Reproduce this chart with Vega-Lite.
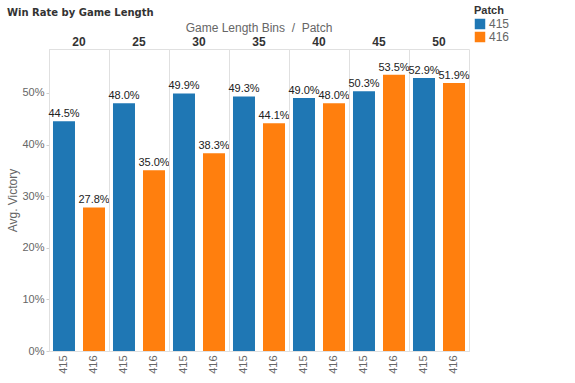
{
  "$schema": "https://vega.github.io/schema/vega-lite/v6.json",
  "padding": {"left": 6, "top": 5, "right": 5, "bottom": 2},
  "background": "white",
  "bounds": "flush",
  "title": {"text": "Win Rate by Game Length", "anchor": "start", "frame": "bounds", "font": "DejaVu Sans", "fontSize": 10, "fontWeight": "bold", "color": "#333333", "offset": -13},
  "data": {"values": [
    {"bin": "20", "patch": "415", "victory": 0.445},
    {"bin": "20", "patch": "416", "victory": 0.278},
    {"bin": "25", "patch": "415", "victory": 0.480},
    {"bin": "25", "patch": "416", "victory": 0.350},
    {"bin": "30", "patch": "415", "victory": 0.499},
    {"bin": "30", "patch": "416", "victory": 0.383},
    {"bin": "35", "patch": "415", "victory": 0.493},
    {"bin": "35", "patch": "416", "victory": 0.441},
    {"bin": "40", "patch": "415", "victory": 0.490},
    {"bin": "40", "patch": "416", "victory": 0.480},
    {"bin": "45", "patch": "415", "victory": 0.503},
    {"bin": "45", "patch": "416", "victory": 0.535},
    {"bin": "50", "patch": "415", "victory": 0.529},
    {"bin": "50", "patch": "416", "victory": 0.519}
  ]},
  "facet": {"column": {"field": "bin", "type": "ordinal", "title": "Game Length Bins \u00a0/\u00a0 Patch",
    "header": {"titleFont": "Liberation Sans", "titleFontSize": 12, "titleColor": "#666666", "titleFontWeight": "normal", "titlePadding": -9,
      "labelFont": "Liberation Sans", "labelFontSize": 12, "labelFontWeight": "bold", "labelColor": "#333333", "labelPadding": 0}}},
  "spacing": 0,
  "spec": {
    "width": 60,
    "height": 302,
    "encoding": {
      "x": {"field": "patch", "type": "nominal", "title": null,
        "scale": {"paddingInner": 0.267, "paddingOuter": 0.133},
        "axis": {"labelAngle": -90, "labelAlign": "right", "labelBaseline": "middle", "labelFont": "Liberation Sans", "labelFontSize": 11, "labelColor": "#666666", "ticks": false, "domainColor": "#d0d0d0", "labelPadding": 4}},
      "y": {"field": "victory", "type": "quantitative", "title": "Avg. Victory",
        "scale": {"domain": [0, 0.585]},
        "axis": {"format": ".0%", "values": [0, 0.1, 0.2, 0.3, 0.4, 0.5], "grid": false, "labelFont": "Liberation Sans", "labelFontSize": 11, "labelColor": "#666666", "tickColor": "#d0d0d0", "tickSize": 3, "domainColor": "#d0d0d0", "titleFont": "Liberation Sans", "titleFontSize": 12, "titleFontWeight": "normal", "titleColor": "#666666", "titlePadding": 2}}
    },
    "layer": [
      {"mark": {"type": "bar"},
       "encoding": {"color": {"field": "patch", "type": "nominal", "title": "Patch",
         "scale": {"domain": ["415", "416"], "range": ["#1f77b4", "#ff7f0e"]},
         "legend": {"orient": "none", "legendX": 425, "legendY": -44, "titleFont": "Liberation Sans", "titleFontSize": 11, "titleColor": "#333333", "labelFont": "Liberation Sans", "labelFontSize": 12, "labelColor": "#666666", "symbolType": "square", "symbolSize": 110, "symbolStrokeWidth": 0, "rowPadding": 1, "titlePadding": 2, "labelOffset": 3}}}},
      {"mark": {"type": "text", "dy": -7, "font": "Liberation Sans", "fontSize": 11, "color": "#222222"},
       "encoding": {"text": {"field": "victory", "type": "quantitative", "format": ".1%"}}}
    ]
  },
  "config": {"view": {"stroke": "#e0e0e0", "strokeWidth": 1}}
}
